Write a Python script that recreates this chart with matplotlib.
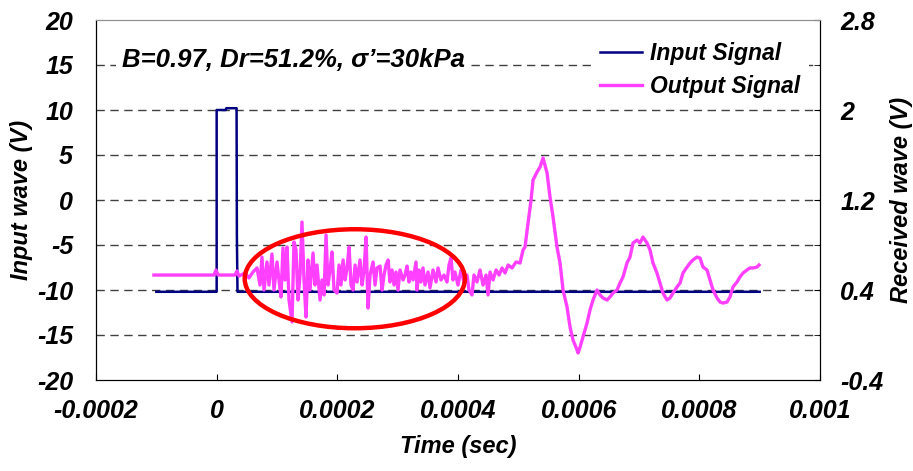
import numpy as np
import matplotlib
matplotlib.use('Agg')
import matplotlib.pyplot as plt
from matplotlib.patches import Ellipse
from matplotlib.ticker import MultipleLocator

plt.rcParams['axes.unicode_minus'] = False

# ---------------- data ----------------
# Input signal (left axis, V); time in microseconds
t_in_us = [-100, 0, 0, 15, 16, 33, 33.5, 34.5, 900]
v_in = [-10.2, -10.2, 10.0, 10.0, 10.2, 10.2, -3.9, -10.2, -10.2]

# Output signal (right axis, V); time in microseconds
t_out_us = [-104, -4.4, -1.1, 2.2, 30.4, 33.7, 37.0, 47.0, 53.6, 60.2, 66.9, 71.8,
            75.1, 78.5, 83.4, 86.7, 91.7, 95.0, 100.0, 103.3, 106.6, 109.9, 113.3,
            116.6, 119.9, 124.9, 128.2, 131.5, 134.8, 138.2, 141.4, 144.8, 148.1,
            151.5, 154.7, 159.7, 163.0, 166.3, 171.3, 174.6, 178.0, 181.3, 184.5,
            187.9, 191.2, 194.5, 199.5, 202.8, 206.1, 209.5, 212.8, 216.1, 219.5,
            222.7, 226.0, 229.4, 232.7, 237.6, 241.0, 244.3, 247.6, 250.9, 254.2,
            259.2, 262.5, 265.8, 270.8, 274.1, 277.4, 280.7, 284.1, 287.3, 290.7,
            294.0, 297.3, 300.6, 303.9, 308.9, 312.2, 315.5, 318.8, 322.1, 325.5,
            330.4, 332.1, 335.4, 338.7, 342.0, 345.3, 350.3, 353.6, 358.6, 363.6,
            366.9, 371.8, 376.8, 381.8, 385.1, 388.4, 391.7, 395.0, 400.0, 405.0,
            410.0, 414.9, 418.2, 423.2, 426.5, 431.5, 436.5, 441.5, 446.5, 449.8,
            453.1, 458.1, 463.1, 468.1, 473.0, 478.0, 483.0, 489.6, 496.2, 502.8,
            507.8, 511.1, 516.1, 521.1, 524.4, 531.0, 536.0, 541.0, 547.6, 552.5,
            557.5, 564.1, 569.1, 574.1, 580.7, 585.7, 590.6, 597.3, 599.0, 602.3,
            607.2, 613.9, 618.8, 623.8, 630.4, 635.4, 640.4, 647.0, 652.0, 656.9,
            663.6, 668.5, 673.5, 680.1, 685.1, 690.1, 696.7, 701.7, 706.6, 713.3,
            718.2, 723.2, 729.8, 734.8, 739.8, 746.4, 751.4, 756.4, 763.0, 768.0,
            772.9, 779.6, 784.6, 789.5, 796.1, 801.1, 806.1, 812.7, 817.7, 822.7,
            829.3, 834.3, 839.2, 845.9, 850.8, 855.8, 862.4, 867.4, 872.4, 879.0,
            884.0, 889.0, 895.6, 898.9]
v_out = [0.533, 0.533, 0.578, 0.533, 0.533, 0.569, 0.524, 0.551, 0.507, 0.560, 0.596, 0.444,
         0.693, 0.400, 0.649, 0.444, 0.720, 0.400, 0.649, 0.489, 0.338, 0.773, 0.489,
         0.782, 0.311, 0.116, 0.827, 0.756, 0.311, 0.533, 1.004, 0.489, 0.160,
         0.667, 0.400, 0.729, 0.444, 0.622, 0.311, 0.489, 0.356, 0.889, 0.444,
         0.578, 0.738, 0.400, 0.373, 0.622, 0.444, 0.667, 0.489, 0.596, 0.782,
         0.444, 0.400, 0.622, 0.471, 0.667, 0.444, 0.578, 0.871, 0.240, 0.533,
         0.649, 0.444, 0.596, 0.613, 0.400, 0.533, 0.622, 0.667, 0.471, 0.578,
         0.444, 0.560, 0.400, 0.578, 0.489, 0.533, 0.613, 0.471, 0.560, 0.489,
         0.649, 0.400, 0.578, 0.471, 0.596, 0.444, 0.560, 0.418, 0.578, 0.471,
         0.596, 0.489, 0.533, 0.471, 0.622, 0.684, 0.489, 0.560, 0.444, 0.578,
         0.471, 0.533, 0.400, 0.356, 0.533, 0.471, 0.578, 0.444, 0.533, 0.356,
         0.560, 0.489, 0.578, 0.533, 0.596, 0.551, 0.622, 0.596, 0.649, 0.640,
         0.756, 0.782, 0.996, 1.200, 1.378, 1.449, 1.493, 1.573, 1.440, 1.227,
         1.049, 0.782, 0.640, 0.400, 0.249, 0.071, -0.044, -0.133, -0.160, -0.107,
         -0.018, 0.107, 0.222, 0.311, 0.400, 0.356, 0.329, 0.311, 0.338, 0.373,
         0.400, 0.462, 0.516, 0.640, 0.693, 0.818, 0.844, 0.818, 0.871, 0.818,
         0.756, 0.640, 0.551, 0.462, 0.373, 0.311, 0.329, 0.373, 0.427, 0.462,
         0.551, 0.604, 0.640, 0.667, 0.693, 0.684, 0.604, 0.578, 0.489, 0.400,
         0.329, 0.293, 0.284, 0.293, 0.338, 0.427, 0.471, 0.516, 0.551, 0.578,
         0.596, 0.596, 0.604, 0.622]

x_ticks = [-0.0002, 0, 0.0002, 0.0004, 0.0006, 0.0008, 0.001]
x_ticklabels = ['-0.0002', '0', '0.0002', '0.0004', '0.0006', '0.0008', '0.001']
left_ticks = [-20, -15, -10, -5, 0, 5, 10, 15, 20]
right_ticks = [-0.4, 0.4, 1.2, 2.0, 2.8]
right_ticklabels = ['-0.4', '0.4', '1.2', '2', '2.8']

annotation = "B=0.97, Dr=51.2%, σ’=30kPa"
labels = ["Input Signal", "Output Signal"]

t_in = np.array(t_in_us) * 1e-6
t_out = np.array(t_out_us) * 1e-6

# ---------------- style ----------------
FONT = 'Liberation Sans'
fbi = dict(family=FONT, weight='bold', style='italic')
NAVY = '#000080'
MAG = '#FF40FF'

fig = plt.figure(figsize=(9.13, 4.71), dpi=100)
ax = fig.add_axes([96 / 913, 1 - 380 / 471, 724 / 913, 360 / 471])
ax2 = ax.twinx()

ax.set_xlim(-0.0002, 0.001)
ax.set_ylim(-20, 20)
ax2.set_ylim(-0.4, 2.8)

# grid
for yv in left_ticks[1:-1]:
    ax.axhline(yv, color='#404040', lw=1.0, ls=(0, (6, 4)), zorder=0)

l1, = ax.plot(t_in, v_in, color=NAVY, lw=1.8, zorder=3)
l2, = ax2.plot(t_out, v_out, color=MAG, lw=2.4, zorder=3)

# ellipse highlight
ell = Ellipse((229e-6, 0.50), width=365e-6, height=0.88, fill=False,
              edgecolor='#FF0000', lw=3.2, zorder=5)
ax2.add_patch(ell)

# ticks
ax.set_xticks(x_ticks)
ax.set_xticklabels(x_ticklabels)
ax.set_yticks(left_ticks)
ax2.set_yticks(right_ticks)
ax2.set_yticklabels(right_ticklabels)
ax2.yaxis.set_minor_locator(MultipleLocator(0.4))

ax.tick_params(axis='x', direction='in', length=4, pad=14, labelsize=18)
ax.tick_params(axis='y', direction='in', length=0, pad=16.5, labelsize=18)
ax2.tick_params(axis='y', which='major', direction='in', length=4, pad=14.5, labelsize=18)
ax2.tick_params(axis='y', which='minor', direction='in', length=4)
for lab in ax.get_xticklabels() + ax.get_yticklabels() + ax2.get_yticklabels():
    lab.set_fontfamily(FONT)
    lab.set_fontweight('bold')
    lab.set_fontstyle('italic')

ax.set_xlabel('Time (sec)', fontsize=17, labelpad=8, **fbi)
ax.set_ylabel('Input wave (V)', fontsize=17, labelpad=3, **fbi)
ax2.set_ylabel('Received wave (V)', fontsize=17, labelpad=5, **fbi)

for s in ['left', 'bottom', 'right']:
    ax.spines[s].set_color('black')
    ax2.spines[s].set_color('black')
ax.spines['top'].set_color('#909090')
ax2.spines['top'].set_color('#909090')

ax.text(-0.000157, 15.6, annotation, fontsize=18.5, ha='left', va='center',
        bbox=dict(facecolor='white', edgecolor='none', pad=4), zorder=6, **fbi)

leg = ax2.legend([l1, l2], labels, loc='upper left', bbox_to_anchor=(0.684, 0.964),
                 frameon=True, facecolor='white', edgecolor='none', framealpha=1,
                 handlelength=1.8, handletextpad=0.35, labelspacing=0.45,
                 borderaxespad=0, prop=dict(family=FONT, weight='bold', style='italic', size=16.5))
leg.get_frame().set_linewidth(0)

fig.savefig('out.png', dpi=100)
